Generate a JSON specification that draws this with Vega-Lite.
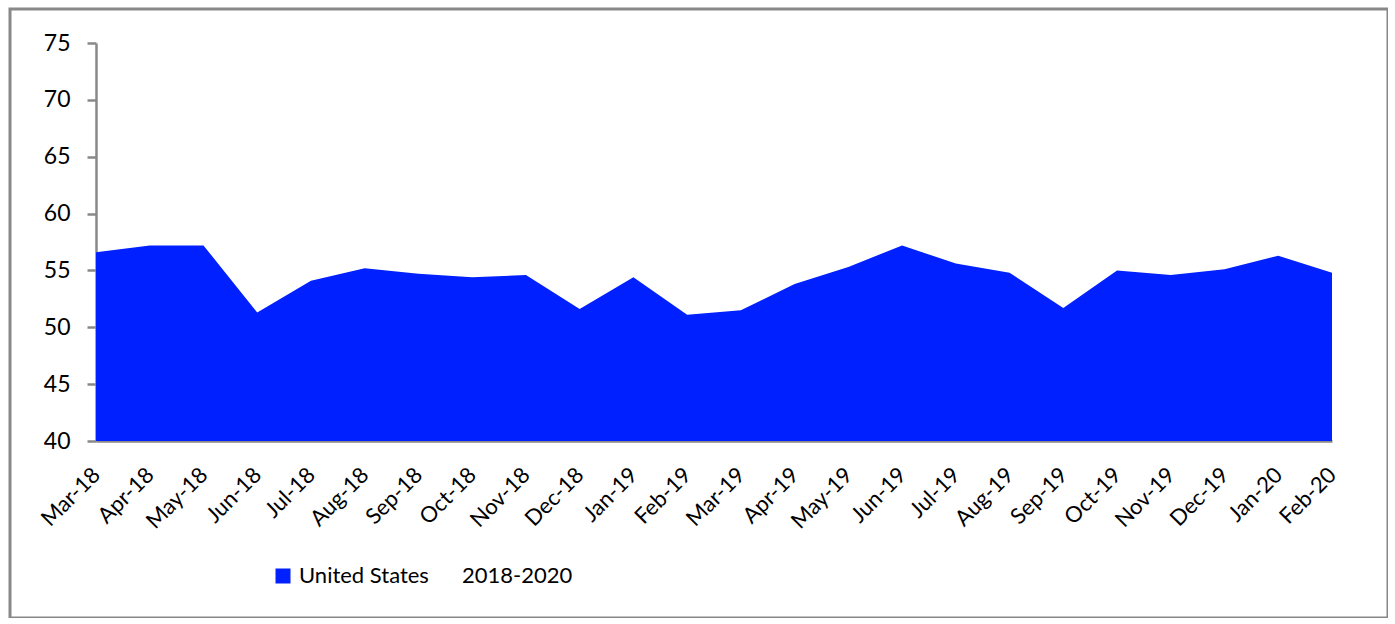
{
  "$schema": "https://vega.github.io/schema/vega-lite/v6.json",
  "autosize": "none",
  "padding": {"left": 10, "top": 9, "right": 0, "bottom": 0},
  "width": 1378,
  "height": 609,
  "background": "white",
  "config": {
    "view": {"stroke": "#888888", "strokeWidth": 3},
    "font": "Lato"
  },
  "data": {
    "values": [
      {"month": "Mar-18", "value": 56.6, "series": "United States"},
      {"month": "Apr-18", "value": 57.2, "series": "United States"},
      {"month": "May-18", "value": 57.2, "series": "United States"},
      {"month": "Jun-18", "value": 51.3, "series": "United States"},
      {"month": "Jul-18", "value": 54.1, "series": "United States"},
      {"month": "Aug-18", "value": 55.2, "series": "United States"},
      {"month": "Sep-18", "value": 54.7, "series": "United States"},
      {"month": "Oct-18", "value": 54.4, "series": "United States"},
      {"month": "Nov-18", "value": 54.6, "series": "United States"},
      {"month": "Dec-18", "value": 51.6, "series": "United States"},
      {"month": "Jan-19", "value": 54.4, "series": "United States"},
      {"month": "Feb-19", "value": 51.1, "series": "United States"},
      {"month": "Mar-19", "value": 51.5, "series": "United States"},
      {"month": "Apr-19", "value": 53.8, "series": "United States"},
      {"month": "May-19", "value": 55.3, "series": "United States"},
      {"month": "Jun-19", "value": 57.2, "series": "United States"},
      {"month": "Jul-19", "value": 55.6, "series": "United States"},
      {"month": "Aug-19", "value": 54.8, "series": "United States"},
      {"month": "Sep-19", "value": 51.7, "series": "United States"},
      {"month": "Oct-19", "value": 55.0, "series": "United States"},
      {"month": "Nov-19", "value": 54.6, "series": "United States"},
      {"month": "Dec-19", "value": 55.1, "series": "United States"},
      {"month": "Jan-20", "value": 56.3, "series": "United States"},
      {"month": "Feb-20", "value": 54.8, "series": "United States"}
    ]
  },
  "mark": {"type": "area", "opacity": 1, "clip": false},
  "encoding": {
    "x": {
      "field": "month",
      "type": "ordinal",
      "sort": null,
      "scale": {"type": "point", "range": [86, 1322], "padding": 0},
      "axis": {
        "title": null,
        "orient": "bottom",
        "offset": -177,
        "labelAngle": -45,
        "labelAlign": "right",
        "labelBaseline": "middle",
        "labelFontSize": 22,
        "labelColor": "#000000",
        "labelPadding": 30,
        "labelDx": 4,
        "ticks": false,
        "domainColor": "#888888",
        "domainWidth": 2.5,
        "grid": false,
        "labelOverlap": false
      }
    },
    "y": {
      "field": "value",
      "type": "quantitative",
      "scale": {"domain": [40, 75], "range": [432, 34], "nice": false, "zero": false},
      "axis": {
        "title": null,
        "orient": "left",
        "offset": -86,
        "values": [40, 45, 50, 55, 60, 65, 70, 75],
        "labelFontSize": 23,
        "labelColor": "#000000",
        "labelPadding": 17,
        "tickSize": 9,
        "tickColor": "#888888",
        "tickWidth": 2.5,
        "domainColor": "#888888",
        "domainWidth": 2.5,
        "grid": false
      }
    },
    "y2": {"datum": 40},
    "color": {
      "field": "series",
      "type": "nominal",
      "scale": {"domain": ["United States", "2018-2020"], "range": ["#0020ff", "rgba(0,0,0,0)"]},
      "legend": {
        "title": null,
        "orient": "none",
        "direction": "horizontal",
        "legendX": 262,
        "legendY": 556,
        "symbolType": "square",
        "symbolSize": 225,
        "symbolStrokeWidth": 0,
        "symbolOpacity": 1,
        "labelFontSize": 22,
        "labelColor": "#000000",
        "labelOffset": 5,
        "columnPadding": 6,
        "padding": 0
      }
    }
  }
}
